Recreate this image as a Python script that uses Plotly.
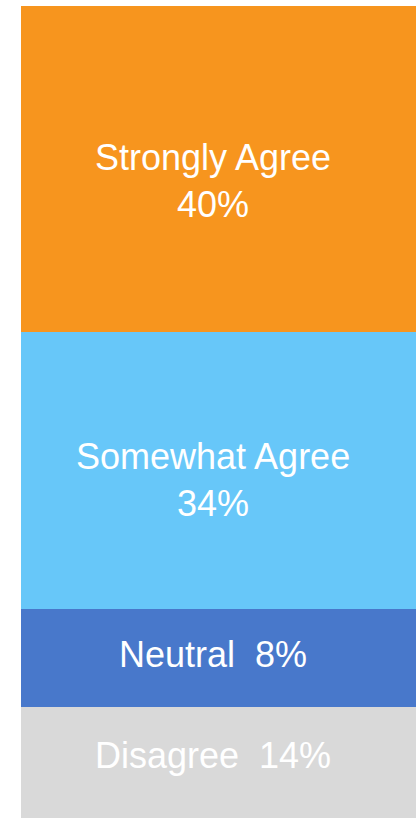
import plotly.graph_objects as go

categories = ["Disagree", "Neutral", "Somewhat Agree", "Strongly Agree"]
values = [14, 12, 34, 40]
labels = ["Disagree  14%", "Neutral  8%", "Somewhat Agree<br>34%", "Strongly Agree<br>40%"]
colors = ["#D9D9D9", "#4878CB", "#67C7F9", "#F7951E"]
label_shift = [9, 4, -9, -12]

fig = go.Figure()
base = 0
annotations = []
for cat, v, lab, col, sh in zip(categories, values, labels, colors, label_shift):
    fig.add_trace(go.Bar(
        x=["All"], y=[v], name=cat, marker=dict(color=col, line=dict(width=0)),
        hoverinfo="skip",
    ))
    annotations.append(dict(
        x=0.5, xref="paper", y=base + v / 2, yref="y", text=lab,
        showarrow=False, xshift=-6, yshift=sh,
        font=dict(family="Arial, Liberation Sans, sans-serif", size=36, color="white"),
        align="center",
    ))
    base += v

fig.update_layout(
    barmode="stack", bargap=0, width=416, height=818,
    margin=dict(l=21, r=0, t=6, b=0),
    paper_bgcolor="white", plot_bgcolor="white",
    showlegend=False,
    xaxis=dict(visible=False),
    yaxis=dict(visible=False, range=[0.4, 100]),
    annotations=annotations,
)
fig.write_html("out.html")
